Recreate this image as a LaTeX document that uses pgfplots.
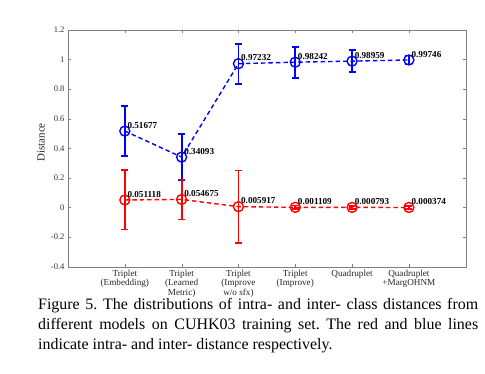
\documentclass[border=0pt]{standalone}
\usepackage{fontspec}
\setmainfont{Liberation Serif}
\usepackage{pgfplots}
\usepackage{pgfplotstable}
\pgfplotsset{compat=1.18}
\pgfplotstableread{
x y e l
1 0.51677 0.17 0.51677
2 0.34093 0.157 0.34093
3 0.97232 0.135 0.97232
4 0.98242 0.105 0.98242
5 0.98959 0.075 0.98959
6 0.99746 0.03 0.99746
}\inter
\pgfplotstableread{
x y e l
1 0.051118 0.2 0.051118
2 0.054675 0.135 0.054675
3 0.005917 0.245 0.005917
4 0.001109 0.012 0.001109
5 0.000793 0.012 0.000793
6 0.000374 0.010 0.000374
}\intra
\begin{document}
\frenchspacing
\begin{tikzpicture}[x=1bp,y=1bp]
\path (0,0) rectangle (485,373);
\begin{axis}[
  at={(68bp,106.3bp)}, anchor=south west,
  scale only axis, width=397.7bp, height=236.7bp,
  xmin=0, xmax=7, ymin=-0.4, ymax=1.2,
  ytick={-0.4,-0.2,0,0.2,0.4,0.6,0.8,1,1.2},
  xtick={1,2,3,4,5,6},
  xticklabels={{Triplet\\(Embedding)},{Triplet\\(Learned\\Metric)},{Triplet\\(Improve\\w/o sfx)},{Triplet\\(Improve)},{Quadruplet},{Quadruplet\\+MargOHNM}},
  x tick label style={align=center, font=\fontsize{9.2}{9.4}\selectfont, anchor=north, yshift=0bp, text=black!85},
  y tick label style={font=\fontsize{8.6}{9}\selectfont, text=black!80},
  /pgf/number format/assume math mode=true,
  tick align=inside, major tick length=3bp,
  axis line style={gray}, tick style={gray},
  ylabel={Distance},
  ylabel style={font=\fontsize{11}{12}\selectfont, at={(axis description cs:-0.068,0.525)}, anchor=center, text=black!85},
  point meta=explicit symbolic,
  nodes near coords,
  nodes near coords style={font=\bfseries\fontsize{9.2}{10}\selectfont, anchor=south west, inner sep=0.5pt, xshift=1.5bp, yshift=1.5bp, text=black},
]
\addplot+[blue, line width=1.4pt, dash pattern=on 4.5pt off 3pt,
  mark=o, mark size=5bp, mark options={solid, line width=1.4pt},
  error bars/.cd, y dir=both, y explicit,
  error bar style={solid, line width=1.8pt},
  error mark options={rotate=90, mark size=3.5bp, line width=1.8pt}]
  table[x=x, y=y, y error=e, meta=l] {\inter};
\addplot+[red, line width=1.4pt, dash pattern=on 4.5pt off 3pt,
  mark=o, mark size=5bp, mark options={solid, line width=1.4pt},
  error bars/.cd, y dir=both, y explicit,
  error bar style={solid, line width=1.8pt},
  error mark options={rotate=90, mark size=3.5bp, line width=1.8pt}]
  table[x=x, y=y, y error=e, meta=l] {\intra};
\end{axis}
\node[anchor=north west, text width=440bp, align=justify, inner sep=0pt] at (38,75)
  {\fontsize{16}{20}\selectfont\hyphenpenalty=10000 Figure 5. The distributions of intra- and inter- class distances from different models on CUHK03 training set. The red and blue lines indicate intra- and inter- distance respectively.\par};
\end{tikzpicture}
\end{document}
